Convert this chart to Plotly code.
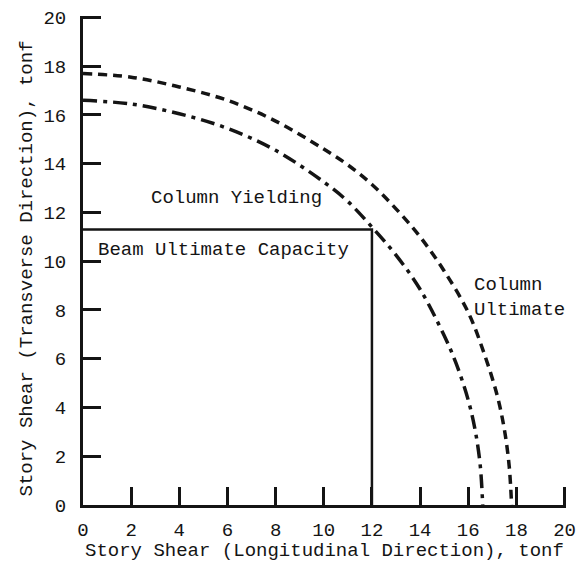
import plotly.graph_objects as go

# Column Ultimate (dashed)
ult_x = [0, 2, 4, 6, 8, 10, 11, 12, 13, 14, 15, 16, 16.7, 17.2, 17.5, 17.7, 17.8]
ult_y = [17.7, 17.55, 17.15, 16.6, 15.75, 14.6, 13.95, 13.15, 12.15, 11.0, 9.6, 7.9, 6.1, 4.5, 3.1, 1.6, 0]

# Column Yielding (dash-dot)
yld_x = [0, 2, 4, 6, 8, 10, 11, 12, 13, 14, 15, 15.5, 16, 16.3, 16.5, 16.6]
yld_y = [16.6, 16.45, 16.05, 15.45, 14.55, 13.25, 12.45, 11.4, 10.25, 8.85, 6.95, 5.8, 4.3, 3.0, 1.6, 0]

# Beam Ultimate Capacity (solid rectangle)
beam_x = [0, 12, 12]
beam_y = [11.3, 11.3, 0]

x_ticks = [0, 2, 4, 6, 8, 10, 12, 14, 16, 18, 20]
y_ticks = [0, 2, 4, 6, 8, 10, 12, 14, 16, 18, 20]

FONT = "Liberation Mono, Courier New, monospace"
INK = "#141414"
FS = 19

fig = go.Figure()
fig.add_trace(go.Scatter(x=beam_x, y=beam_y, mode="lines",
                         line=dict(color=INK, width=2.5), showlegend=False))
fig.add_trace(go.Scatter(x=yld_x, y=yld_y, mode="lines", line_shape="spline",
                         line=dict(color=INK, width=3.5, dash="14px,6px,4px,6px"),
                         showlegend=False))
fig.add_trace(go.Scatter(x=ult_x, y=ult_y, mode="lines", line_shape="spline",
                         line=dict(color=INK, width=3.5, dash="9px,6px"),
                         showlegend=False))

fig.add_annotation(x=2.75, y=12.6, text="Column Yielding", showarrow=False,
                   xanchor="left", yanchor="middle", font=dict(family=FONT, size=FS, color=INK))
fig.add_annotation(x=0.55, y=10.45, text="Beam Ultimate Capacity", showarrow=False,
                   xanchor="left", yanchor="middle", font=dict(family=FONT, size=FS, color=INK))
fig.add_annotation(x=16.15, y=9.1, yshift=11, text="Column<br>Ultimate", showarrow=False,
                   xanchor="left", yanchor="top", align="left",
                   font=dict(family=FONT, size=FS, color=INK))

fig.add_annotation(xref="paper", yref="paper", x=0.5, y=0, yshift=-46,
                   text="Story Shear (Longitudinal Direction), tonf", showarrow=False,
                   xanchor="center", yanchor="middle", font=dict(family=FONT, size=FS, color=INK))
fig.add_annotation(xref="paper", yref="paper", x=0, y=0.5, xshift=-57, yshift=-8, textangle=-90,
                   text="Story Shear (Transverse Direction), tonf", showarrow=False,
                   xanchor="center", yanchor="middle", font=dict(family=FONT, size=FS, color=INK))

axis_common = dict(
    showgrid=False, zeroline=False, showline=True, linecolor=INK, linewidth=3,
    ticks="inside", ticklen=18, tickwidth=2.5, tickcolor=INK,
    tickfont=dict(family=FONT, size=FS, color=INK), range=[0, 20.06],
    tickmode="array",
)

fig.update_xaxes(**axis_common, tickvals=x_ticks, ticktext=[str(v) for v in x_ticks],
                 ticklabelstandoff=5)
fig.update_yaxes(**axis_common, tickvals=y_ticks, ticktext=[str(v) for v in y_ticks],
                 ticklabelstandoff=10)

fig.update_layout(
    width=580, height=571,
    margin=dict(l=83, r=14, t=16, b=66, autoexpand=False),
    paper_bgcolor="white", plot_bgcolor="white",
    showlegend=False,
)

fig.write_html("out.html")
